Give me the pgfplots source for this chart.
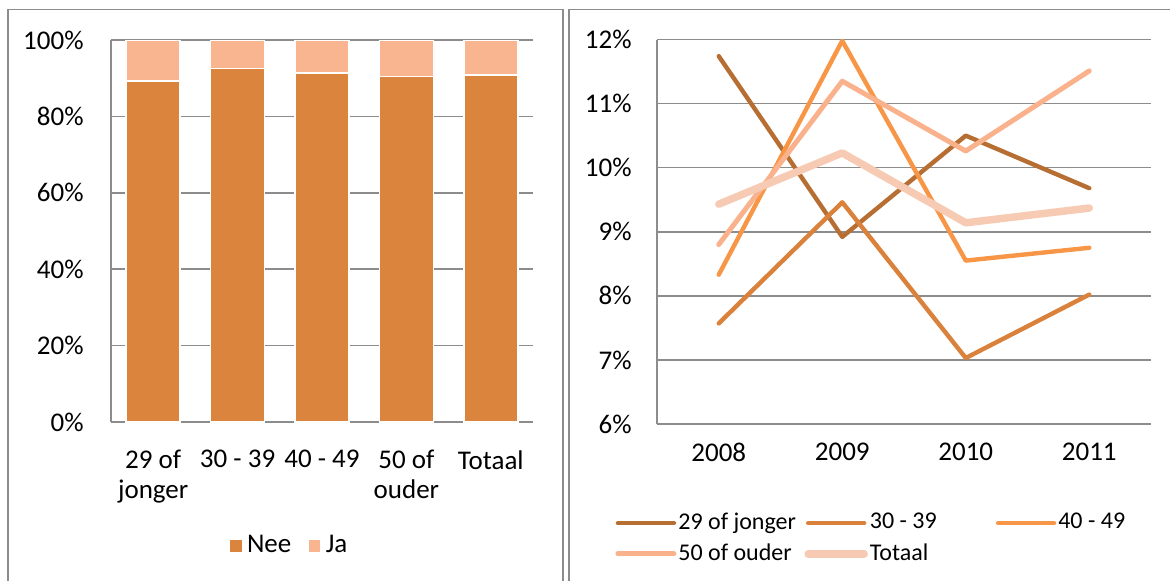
\documentclass[border=0pt]{standalone}
\usepackage{pgfplots}
\pgfplotsset{compat=1.18}
\usepackage{fontspec}
\setmainfont{Carlito}
\definecolor{framec}{HTML}{8C8C8C}
\definecolor{gridc}{HTML}{8C8C8C}
\definecolor{nee}{HTML}{DA843E}
\definecolor{ja}{HTML}{F9B590}
\definecolor{cA}{HTML}{B76E33}
\definecolor{cB}{HTML}{DA813B}
\definecolor{cC}{HTML}{F79646}
\definecolor{cD}{HTML}{F9B28B}
\definecolor{cE}{HTML}{F7CBB3}
\begin{document}
\fontsize{13.5}{15}\selectfont
\begin{tikzpicture}[font=\fontsize{13.5}{15}\selectfont]
\path[use as bounding box] (0,0) rectangle (585pt,290pt);
\draw[framec, line width=0.9pt] (4pt,-10pt) rectangle (281.5pt,285.2pt);
\draw[framec, line width=0.9pt] (284.5pt,-10pt) rectangle (600pt,285.2pt);
\begin{axis}[
  at={(55.5pt,79pt)}, anchor=south west,
  width=211pt, height=191pt, scale only axis,
  ybar stacked, bar width=27pt,
  xmin=-0.5, xmax=4.5, ymin=0, ymax=100,
  ytick={0,20,40,60,80,100},
  yticklabels={0\%,20\%,40\%,60\%,80\%,100\%},
  xtick={0,1,2,3,4},
  xticklabels={{29 of\\jonger},{30 - 39},{40 - 49},{50 of\\ouder},{Totaal}},
  xticklabel style={align=center, yshift=-9.5pt},
  yticklabel style={xshift=-9pt},
  major tick length=0pt,
  ymajorgrids, grid style={gridc, line width=0.75pt},
  axis x line*=bottom, axis y line*=left,
  axis line style={gridc, line width=0.75pt},
  legend style={at={(0.424,-0.325)}, anchor=center, draw=none, legend columns=2,
    /tikz/every even column/.append style={column sep=6pt}, nodes={inner sep=2pt}},
  legend image code/.code={\fill[#1] (0pt,-3.25pt) rectangle (6.5pt,3.25pt);},
]
\addplot[fill=nee, draw=white, line width=0.75pt] coordinates {(0,89.3) (1,92.5) (2,91.3) (3,90.4) (4,90.9)};
\addlegendentry{Nee}
\addplot[fill=ja, draw=white, line width=0.75pt] coordinates {(0,10.7) (1,7.5) (2,8.7) (3,9.6) (4,9.1)};
\addlegendentry{Ja}
\end{axis}
\begin{axis}[
  at={(328.5pt,78pt)}, anchor=south west,
  width=247pt, height=192.25pt, scale only axis,
  xmin=-0.5, xmax=3.5, ymin=6, ymax=12,
  ytick={6,7,8,9,10,11,12},
  yticklabels={6\%,7\%,8\%,9\%,10\%,11\%,12\%},
  xtick={0,1,2,3},
  xticklabels={2008,2009,2010,2011},
  xticklabel style={yshift=-5pt},
  yticklabel style={xshift=-8pt},
  major tick length=0pt,
  ymajorgrids, grid style={gridc, line width=0.75pt},
  axis x line*=bottom, axis y line*=left,
  axis line style={gridc, line width=0.75pt},
  legend style={at={(-0.085,-0.298)}, anchor=west, draw=none, legend columns=3,
    inner sep=0pt, row sep=3pt, font=\fontsize{12}{14}\selectfont,
    /tikz/every even column/.append style={column sep=0pt},
    nodes={inner sep=1pt}},
  legend image code/.code={\draw[#1, line cap=round] (0pt,0pt) -- (28pt,0pt);},
  every axis plot/.append style={line join=round, line cap=round},
]
\addplot[cA, line width=2.2pt] coordinates {(0,11.74) (1,8.92) (2,10.50) (3,9.68)};
\addlegendentry{\makebox[62pt][l]{29 of jonger}}
\addplot[cB, line width=2.2pt] coordinates {(0,7.57) (1,9.46) (2,7.03) (3,8.02)};
\addlegendentry{\makebox[62pt][l]{30 - 39}}
\addplot[cC, line width=2.2pt] coordinates {(0,8.33) (1,11.98) (2,8.55) (3,8.75)};
\addlegendentry{\makebox[62pt][l]{40 - 49}}
\addplot[cD, line width=2.5pt] coordinates {(0,8.80) (1,11.35) (2,10.26) (3,11.51)};
\addlegendentry{\makebox[62pt][l]{50 of ouder}}
\addplot[cE, line width=3.75pt] coordinates {(0,9.43) (1,10.23) (2,9.14) (3,9.37)};
\addlegendentry{\makebox[62pt][l]{Totaal}}
\end{axis}
\end{tikzpicture}
\end{document}
